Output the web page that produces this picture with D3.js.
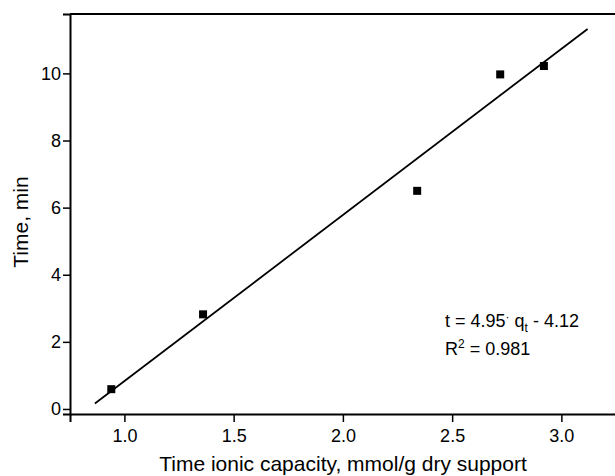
<!DOCTYPE html>
<html>
<head>
<meta charset="utf-8">
<script src="https://cdn.jsdelivr.net/npm/d3@7"></script>
<style>
  body { margin: 0; background: #fff; }
  svg text { font-family: "Liberation Sans", Arial, sans-serif; fill: #000; }
</style>
</head>
<body>
<div id="chart"></div>
<script>
const width = 615, height = 476;

// data
const capacity = [0.94, 1.36, 2.34, 2.72, 2.92];
const timeMin = [0.59, 2.82, 6.50, 9.97, 10.22];
const xTicks = [1.0, 1.5, 2.0, 2.5, 3.0];
const yTicks = [0, 2, 4, 6, 8, 10];
const slope = 4.95, intercept = -4.12;
const fitRange = [0.865, 3.12];

const svg = d3.select("#chart").append("svg")
    .attr("width", width)
    .attr("height", height);

const x = d3.scaleLinear().domain([0.751, 3.25]).range([70, 616]);
const y = d3.scaleLinear().domain([-0.15, 11.77]).range([414, 14]);

// top frame line (right side is cut off in the picture)
svg.append("line")
    .attr("x1", x.range()[0]).attr("x2", x.range()[1])
    .attr("y1", y.range()[1]).attr("y2", y.range()[1])
    .attr("stroke", "#000").attr("stroke-width", 2);

const xAxis = svg.append("g")
    .attr("transform", `translate(0,${y.range()[0]})`)
    .call(d3.axisBottom(x).tickValues(xTicks).tickFormat(d3.format(".1f")).tickSize(8).tickPadding(7));

const yAxis = svg.append("g")
    .attr("transform", `translate(${x.range()[0]},0)`)
    .call(d3.axisLeft(y).tickValues(yTicks).tickSize(7).tickPadding(2));

[xAxis, yAxis].forEach(a => {
    a.select(".domain").attr("stroke-width", 2);
    a.selectAll(".tick line").attr("stroke-width", 1.5);
    a.selectAll(".tick text").attr("font-size", 18).attr("font-family", "Liberation Sans, Arial, sans-serif");
});

// fit line
svg.append("line")
    .attr("x1", x(fitRange[0])).attr("y1", y(slope * fitRange[0] + intercept))
    .attr("x2", x(fitRange[1])).attr("y2", y(slope * fitRange[1] + intercept))
    .attr("stroke", "#000").attr("stroke-width", 1.8);

// points
const s = 8;
svg.selectAll("rect.pt")
    .data(capacity.map((c, i) => ({ c, t: timeMin[i] })))
    .join("rect")
    .attr("class", "pt")
    .attr("x", d => x(d.c) - s / 2)
    .attr("y", d => y(d.t) - s / 2)
    .attr("width", s).attr("height", s)
    .attr("fill", "#000");

// equation
const eq = svg.append("text").attr("x", 445).attr("y", 327).attr("font-size", 18);
eq.append("tspan").text("t = 4.95");
eq.append("tspan").attr("dy", -6).attr("font-size", 12).text("·");
eq.append("tspan").attr("dy", 6).text(" q");
eq.append("tspan").attr("dy", 5).attr("font-size", 12).text("t");
eq.append("tspan").attr("dy", -5).text(" - 4.12");

const r2 = svg.append("text").attr("x", 445).attr("y", 355).attr("font-size", 18);
r2.append("tspan").text("R");
r2.append("tspan").attr("dy", -7).attr("font-size", 12).text("2");
r2.append("tspan").attr("dy", 7).text(" = 0.981");

// axis titles
svg.append("text")
    .attr("x", 343).attr("y", 471)
    .attr("text-anchor", "middle")
    .attr("font-size", 21)
    .text("Time ionic capacity, mmol/g dry support");

svg.append("text")
    .attr("transform", "translate(28,222) rotate(-90)")
    .attr("text-anchor", "middle")
    .attr("font-size", 21)
    .text("Time, min");
</script>
</body>
</html>
